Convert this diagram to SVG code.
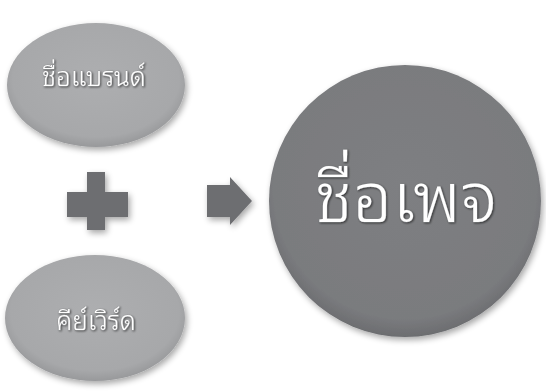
<svg xmlns="http://www.w3.org/2000/svg" width="546" height="392" viewBox="0 0 546 392">
<defs>
<radialGradient id="gl" cx="50%" cy="45%" r="55%">
<stop offset="0" stop-color="#adaeb0"/>
<stop offset="0.85" stop-color="#a7a8aa"/>
<stop offset="1" stop-color="#98999b"/>
</radialGradient>
<radialGradient id="gd" cx="50%" cy="45%" r="55%">
<stop offset="0" stop-color="#7e7f82"/>
<stop offset="0.88" stop-color="#7a7b7e"/>
<stop offset="1" stop-color="#6c6d70"/>
</radialGradient>
<filter id="sh" x="-20%" y="-20%" width="150%" height="150%">
<feGaussianBlur in="SourceAlpha" stdDeviation="3"/>
<feOffset dx="2" dy="3" result="b"/>
<feComponentTransfer><feFuncA type="linear" slope="0.35"/></feComponentTransfer>
<feMerge><feMergeNode/><feMergeNode in="SourceGraphic"/></feMerge>
</filter>
<filter id="ts" x="-10%" y="-10%" width="130%" height="130%">
<feGaussianBlur in="SourceAlpha" stdDeviation="1"/>
<feOffset dx="1" dy="1"/>
<feComponentTransfer><feFuncA type="linear" slope="0.6"/></feComponentTransfer>
<feMerge><feMergeNode/><feMergeNode in="SourceGraphic"/></feMerge>
</filter>
</defs>
<style>
.lbl{font-family:"Noto Sans Thai Looped","Noto Serif Thai","Loma","Garuda","Norasi","Noto Sans Thai","Noto Sans",sans-serif;font-weight:300;fill:#ffffff;text-anchor:middle;stroke:#8a8b8d;stroke-width:0.5;paint-order:stroke}
.sym{fill:#6d6e71}
</style>
<rect width="546" height="392" fill="#ffffff"/>
<g id="brand" filter="url(#sh)">
<ellipse cx="96" cy="85" rx="89" ry="62" fill="url(#gl)"/>
<text class="lbl" x="94" y="86" font-size="26" filter="url(#ts)">ชื่อแบรนด์</text>
</g>
<g id="keyword" filter="url(#sh)">
<ellipse cx="95" cy="318" rx="90" ry="63" fill="url(#gl)"/>
<text class="lbl" x="96" y="330" font-size="26" filter="url(#ts)">คีย์เวิร์ด</text>
</g>
<g id="plus" filter="url(#sh)">
<path class="sym" d="M87 172H105V192H128V217H105V230H87V217H67V192H87Z"/>
</g>
<g id="connectors">
<path class="sym" filter="url(#sh)" d="M207 185H230V177L252 201L230 225V217H207Z"/>
</g>
<g id="page" filter="url(#sh)">
<circle cx="405" cy="201" r="136" fill="url(#gd)"/>
<text class="lbl" x="406" y="222" font-size="70" filter="url(#ts)">ชื่อเพจ</text>
</g>
</svg>
